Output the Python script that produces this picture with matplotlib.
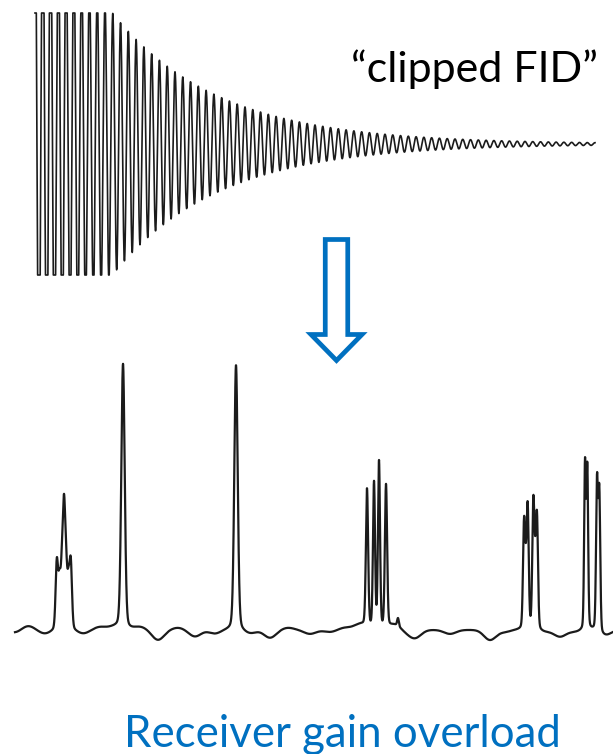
import numpy as np
import matplotlib
matplotlib.use("Agg")
import matplotlib.pyplot as plt
from matplotlib.patches import FancyArrow

plt.rcParams['font.family'] = ['Lato', 'DejaVu Sans']

# ---- FID parameters (time in s, amplitude relative to receiver limit) ----
fid_freq_hz = 72.0
fid_t2_s = 0.1875
fid_amp0 = 2.09
fid_clip = 1.0
fid_duration_s = 1.0

# ---- spectrum lines: position, height, full width at half maximum ----
line_pos = [56.8, 59.5, 62, 64, 66, 68.5, 70.8,
            123, 236,
            367, 374, 379, 386, 398,
            524, 525.8, 527.7, 533.3, 535.2, 537,
            585, 587.3, 597, 599.3]
line_height = [0.25, 0.17, 0.20, 0.40, 0.20, 0.16, 0.24,
               1.0, 1.0,
               0.52, 0.55, 0.63, 0.54, 0.03,
               0.38, 0.15, 0.44, 0.46, 0.17, 0.40,
               0.62, 0.60, 0.56, 0.52]
line_fwhm = [2.8, 2.8, 2.8, 2.8, 2.8, 2.8, 2.8,
             4.0, 4.0,
             2.6, 2.4, 2.4, 2.6, 2.0,
             2.4, 2.4, 2.4, 2.4, 2.4, 2.4,
             2.0, 2.0, 2.2, 2.2]

# ---- baseline ripple: position, offset ----
ripple_pos = [15, 28, 45, 83, 100, 115, 140, 158, 178, 195, 215, 250, 270,
              288, 310, 330, 345, 360, 395, 405, 415, 450, 490, 505, 545,
              560, 575, 605]
ripple_val = [-0.01, 0.015, -0.015, -0.015, 0.01, 0.01, 0.01, -0.038, 0.008,
              -0.025, -0.015, -0.015, -0.03, 0.008, -0.015, -0.008, 0.008,
              0.02, 0.02, -0.008, -0.03, -0.015, -0.038, -0.008, -0.008,
              -0.026, -0.008, -0.022]

spec_start, spec_end = 15, 613

title_top = "\u201cclipped FID\u201d"
caption = "Receiver gain overload"
blue = "#0070C0"
ink = "#1b1b1b"

W, H = 613, 754
fig = plt.figure(figsize=(W / 100, H / 100), dpi=100)

# ---------------- clipped FID ----------------
ax_fid = fig.add_axes([0, (H - 290) / H, 1, 290 / H])
t = np.linspace(0, fid_duration_s, 20000)
fid = fid_amp0 * np.exp(-t / fid_t2_s) * np.cos(2 * np.pi * fid_freq_hz * t)
fid = np.clip(fid, -fid_clip, fid_clip)
ax_fid.plot(t, fid, color=ink, lw=1.2)
px_per_s = 560.0
ax_fid.set_xlim(-35 / px_per_s, (W - 35) / px_per_s)
ax_fid.set_ylim(-(290 - 144) / 131, 144 / 131)
ax_fid.axis('off')

# ---------------- spectrum ----------------
ax_sp = fig.add_axes([0, (H - 660) / H, 1, 320 / H])
x = np.linspace(spec_start, spec_end, 8000)


def pseudo_voigt(x, x0, h, fwhm, eta=0.2):
    s = fwhm / 2.3548
    g = np.exp(-0.5 * ((x - x0) / s) ** 2)
    lz = 1.0 / (1.0 + ((x - x0) / (fwhm / 2)) ** 2)
    return h * ((1 - eta) * g + eta * lz)


y = np.zeros_like(x)
for p, h, w in zip(line_pos, line_height, line_fwhm):
    y += pseudo_voigt(x, p, h, w)
for p, v in zip(ripple_pos, ripple_val):
    y += v * np.exp(-0.5 * ((x - p) / 6.0) ** 2)

ax_sp.plot(x, y, color=ink, lw=1.6)
ax_sp.set_xlim(0, W)
ax_sp.set_ylim((630 - 660) / 265, (630 - 340) / 265)
ax_sp.axis('off')

# ---------------- overlay: arrow and text ----------------
ax_ov = fig.add_axes([0, 0, 1, 1], zorder=3)
ax_ov.set_xlim(0, W)
ax_ov.set_ylim(H, 0)
ax_ov.axis('off')
ax_ov.add_patch(FancyArrow(336.5, 239.5, 0, 121, width=22.5, head_width=51,
                           head_length=26, length_includes_head=True,
                           fc='white', ec=blue, lw=3.4, joinstyle='miter'))
ax_ov.text(598, 82, title_top, ha='right', va='baseline', fontsize=31,
           color='black')
ax_ov.text(342, 747, caption, ha='center', va='baseline', fontsize=31.5,
           color=blue)

fig.savefig("out.png", dpi=100, facecolor='white')
